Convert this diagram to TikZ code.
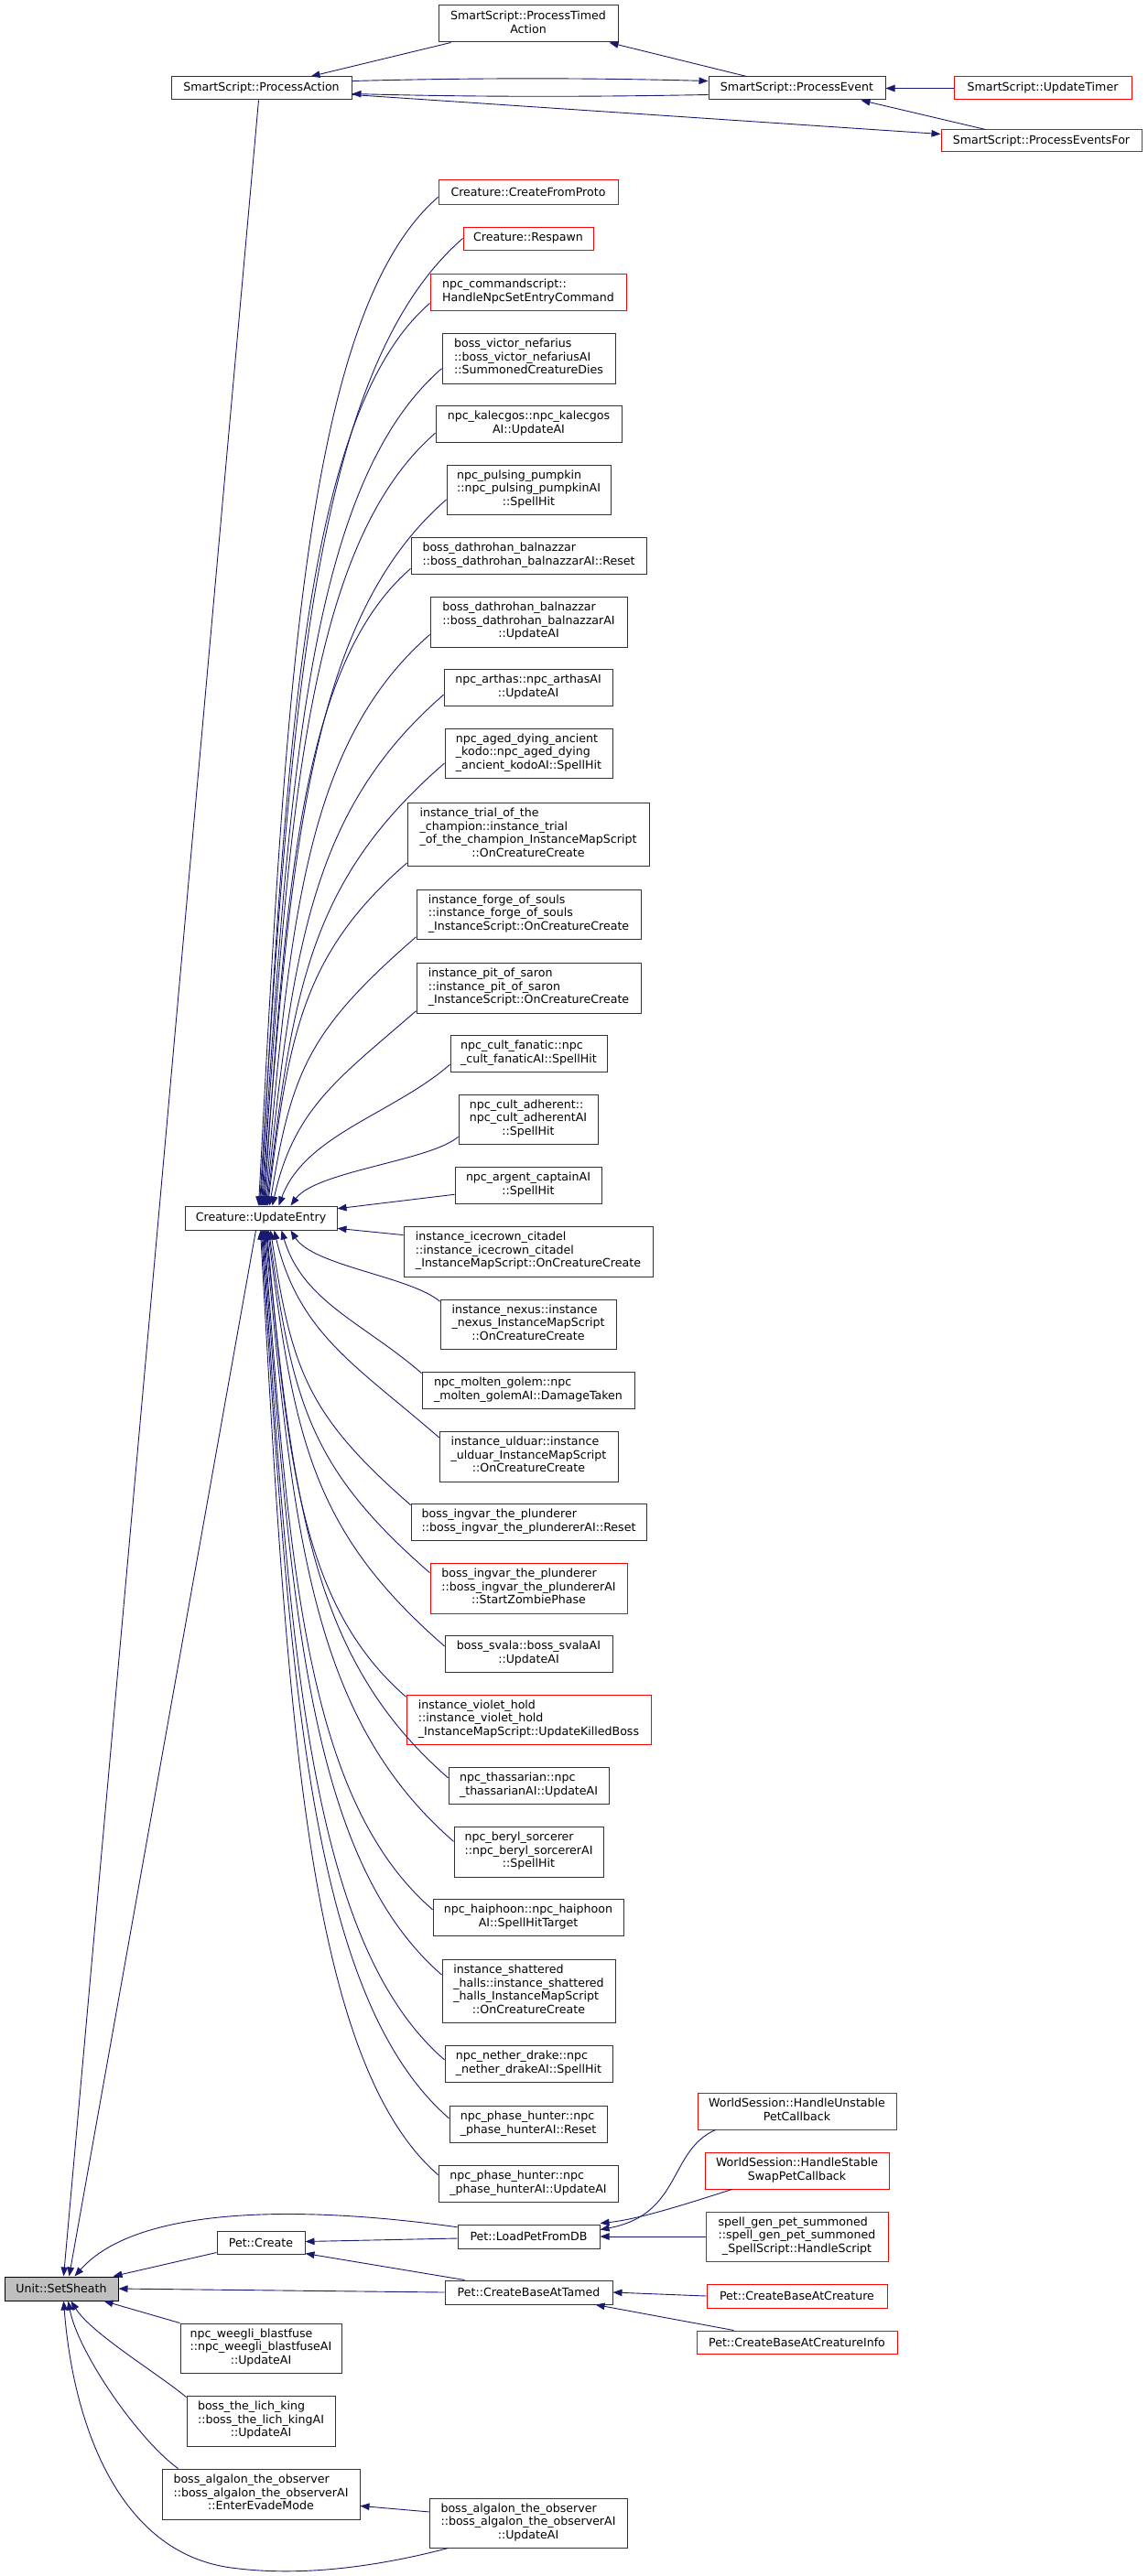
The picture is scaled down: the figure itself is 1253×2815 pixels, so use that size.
\documentclass[tikz,border=0pt]{standalone}
\usepackage{fontspec}
\setmainfont{DejaVu Sans}
\usetikzlibrary{arrows.meta,calc}
\definecolor{edgec}{HTML}{191970}
\definecolor{redc}{HTML}{FF0000}
\newcommand\tbl[1]{\begin{tabular}{@{}l@{}}#1\end{tabular}}
\newcommand\lastc[1]{\multicolumn{1}{@{}c@{}}{#1}}
\newcommand\bx[7][nbox]{\node[#1,minimum width={(#5-#3)*1pt},minimum height={(#6-#4)*1pt}] (#2) at ({(#3+#5)/2},{(#4+#6)/2}) {#7};}
\newcommand\ueup[3]{\draw[cedge] let \p1=($(#1.north west)!#2!(#1.south west)$), \p2=($(ue.north west)+({#3-202},0)$), \n1={min(0.75*((\x1)-(\x2)),0.4*((\y1)-(\y2)))} in (\p1) .. controls ({\x1-\n1*1pt},{\y1-0.87*\n1*1pt}) and ({\x2+0.15*((\x1)-(\x2))},{\y2+0.5*((\y1)-(\y2))}) .. (\p2);}
\newcommand\uedn[3]{\draw[cedge] let \p1=($(#1.north west)!#2!(#1.south west)$), \p2=($(ue.south west)+({#3-202},0)$), \n1={min(0.75*((\x1)-(\x2)),0.4*((\y2)-(\y1)))} in (\p1) .. controls ({\x1-\n1*1pt},{\y1+0.87*\n1*1pt}) and ({\x2+0.15*((\x1)-(\x2))},{\y2-0.5*((\y2)-(\y1))}) .. (\p2);}
\tikzset{
  nbox/.style={draw=black!80,line width=1pt,fill=white,inner sep=0pt,text=black,font=\fontsize{12.6}{14.5}\selectfont},
  rbox/.style={nbox,draw=redc},
  gbox/.style={nbox,draw=black,fill=black!25},
  cedge/.style={draw=edgec,line width=0.9pt,-{Triangle[length=10pt,width=7.5pt]}}
}
\begin{document}
\begin{tikzpicture}[x=1pt,y=-1pt]
\useasboundingbox[fill=white] (0,0) rectangle (1253,2815);
% top
\bx{pta}{479}{6}{675}{46}{\tbl{SmartScript::ProcessTimed\\\lastc{Action}}}
\bx{pa}{187}{84}{384}{109}{SmartScript::ProcessAction}
\bx{pe}{774}{84}{967}{109}{SmartScript::ProcessEvent}
\bx[rbox]{ut}{1042}{84}{1236}{109}{SmartScript::UpdateTimer}
\bx[rbox]{pef}{1028}{142}{1247}{166}{SmartScript::ProcessEventsFor}
% middle column
\bx[rbox]{cfp}{479}{197}{675}{223}{Creature::CreateFromProto}
\bx[rbox]{resp}{506}{248}{648}{273}{Creature::Respawn}
\bx[rbox]{ncs}{470}{299}{684}{339}{\tbl{npc\_commandscript::\\\lastc{HandleNpcSetEntryCommand}}}
\bx{bvn}{483}{364}{672}{419}{\tbl{boss\_victor\_nefarius\\::boss\_victor\_nefariusAI\\\lastc{::SummonedCreatureDies}}}
\bx{kal}{476}{443}{679}{483}{\tbl{npc\_kalecgos::npc\_kalecgos\\\lastc{AI::UpdateAI}}}
\bx{pump}{488}{508}{667}{562}{\tbl{npc\_pulsing\_pumpkin\\::npc\_pulsing\_pumpkinAI\\\lastc{::SpellHit}}}
\bx{dbr}{449}{587}{706}{627}{\tbl{boss\_dathrohan\_balnazzar\\\lastc{::boss\_dathrohan\_balnazzarAI::Reset}}}
\bx{dbu}{470}{652}{685}{707}{\tbl{boss\_dathrohan\_balnazzar\\::boss\_dathrohan\_balnazzarAI\\\lastc{::UpdateAI}}}
\bx{arth}{485}{731}{669}{771}{\tbl{npc\_arthas::npc\_arthasAI\\\lastc{::UpdateAI}}}
\bx{kodo}{486}{796}{669}{850}{\tbl{npc\_aged\_dying\_ancient\\\_kodo::npc\_aged\_dying\\\lastc{\_ancient\_kodoAI::SpellHit}}}
\bx{trial}{445}{877}{709}{946}{\tbl{instance\_trial\_of\_the\\\_champion::instance\_trial\\\_of\_the\_champion\_InstanceMapScript\\\lastc{::OnCreatureCreate}}}
\bx{forge}{455}{972}{700}{1026}{\tbl{instance\_forge\_of\_souls\\::instance\_forge\_of\_souls\\\lastc{\_InstanceScript::OnCreatureCreate}}}
\bx{pit}{455}{1052}{700}{1107}{\tbl{instance\_pit\_of\_saron\\::instance\_pit\_of\_saron\\\lastc{\_InstanceScript::OnCreatureCreate}}}
\bx{fan}{492}{1131}{663}{1171}{\tbl{npc\_cult\_fanatic::npc\\\lastc{\_cult\_fanaticAI::SpellHit}}}
\bx{adh}{501}{1196}{653}{1250}{\tbl{npc\_cult\_adherent::\\npc\_cult\_adherentAI\\\lastc{::SpellHit}}}
\bx{arg}{497}{1275}{657}{1315}{\tbl{npc\_argent\_captainAI\\\lastc{::SpellHit}}}
\bx{ue}{202}{1318}{368}{1344}{Creature::UpdateEntry}
\bx{ice}{441}{1340}{713}{1395}{\tbl{instance\_icecrown\_citadel\\::instance\_icecrown\_citadel\\\lastc{\_InstanceMapScript::OnCreatureCreate}}}
\bx{nex}{481}{1420}{673}{1474}{\tbl{instance\_nexus::instance\\\_nexus\_InstanceMapScript\\\lastc{::OnCreatureCreate}}}
\bx{mol}{461}{1499}{693}{1539}{\tbl{npc\_molten\_golem::npc\\\lastc{\_molten\_golemAI::DamageTaken}}}
\bx{uld}{480}{1564}{675}{1619}{\tbl{instance\_ulduar::instance\\\_ulduar\_InstanceMapScript\\\lastc{::OnCreatureCreate}}}
\bx{ivr}{449}{1643}{706}{1683}{\tbl{boss\_ingvar\_the\_plunderer\\\lastc{::boss\_ingvar\_the\_plundererAI::Reset}}}
\bx[rbox]{ivz}{470}{1708}{685}{1763}{\tbl{boss\_ingvar\_the\_plunderer\\::boss\_ingvar\_the\_plundererAI\\\lastc{::StartZombiePhase}}}
\bx{sva}{486}{1787}{669}{1827}{\tbl{boss\_svala::boss\_svalaAI\\\lastc{::UpdateAI}}}
\bx[rbox]{vio}{444}{1852}{711}{1906}{\tbl{instance\_violet\_hold\\::instance\_violet\_hold\\\lastc{\_InstanceMapScript::UpdateKilledBoss}}}
\bx{tha}{490}{1931}{665}{1971}{\tbl{npc\_thassarian::npc\\\lastc{\_thassarianAI::UpdateAI}}}
\bx{ber}{496}{1996}{659}{2051}{\tbl{npc\_beryl\_sorcerer\\::npc\_beryl\_sorcererAI\\\lastc{::SpellHit}}}
\bx{hai}{473}{2075}{681}{2115}{\tbl{npc\_haiphoon::npc\_haiphoon\\\lastc{AI::SpellHitTarget}}}
\bx{sha}{483}{2141}{672}{2210}{\tbl{instance\_shattered\\\_halls::instance\_shattered\\\_halls\_InstanceMapScript\\\lastc{::OnCreatureCreate}}}
\bx{neth}{486}{2235}{669}{2275}{\tbl{npc\_nether\_drake::npc\\\lastc{\_nether\_drakeAI::SpellHit}}}
\bx{phr}{491}{2301}{663}{2341}{\tbl{npc\_phase\_hunter::npc\\\lastc{\_phase\_hunterAI::Reset}}}
\bx{phu}{479}{2366}{675}{2406}{\tbl{npc\_phase\_hunter::npc\\\lastc{\_phase\_hunterAI::UpdateAI}}}
% bottom
\bx[gbox]{ss}{5}{2488}{129}{2514}{Unit::SetSheath}
\bx{pc}{237}{2438}{333}{2463}{Pet::Create}
\bx{lp}{500}{2431}{655}{2457}{Pet::LoadPetFromDB}
\bx{cbt}{486}{2492}{669}{2518}{Pet::CreateBaseAtTamed}
\bx[rbox]{hu}{762}{2287}{979}{2327}{\tbl{WorldSession::HandleUnstable\\\lastc{PetCallback}}}
\bx[rbox]{hs}{770}{2352}{971}{2392}{\tbl{WorldSession::HandleStable\\\lastc{SwapPetCallback}}}
\bx[rbox]{sg}{771}{2417}{970}{2471}{\tbl{spell\_gen\_pet\_summoned\\::spell\_gen\_pet\_summoned\\\lastc{\_SpellScript::HandleScript}}}
\bx[rbox]{cbc}{772}{2496}{969}{2522}{Pet::CreateBaseAtCreature}
\bx[rbox]{cbi}{761}{2547}{980}{2572}{Pet::CreateBaseAtCreatureInfo}
\bx{weg}{197}{2539}{373}{2593}{\tbl{npc\_weegli\_blastfuse\\::npc\_weegli\_blastfuseAI\\\lastc{::UpdateAI}}}
\bx{lk}{204}{2618}{366}{2673}{\tbl{boss\_the\_lich\_king\\::boss\_the\_lich\_kingAI\\\lastc{::UpdateAI}}}
\bx{aev}{177}{2698}{393}{2753}{\tbl{boss\_algalon\_the\_observer\\::boss\_algalon\_the\_observerAI\\\lastc{::EnterEvadeMode}}}
\bx{aup}{469}{2730}{685}{2784}{\tbl{boss\_algalon\_the\_observer\\::boss\_algalon\_the\_observerAI\\\lastc{::UpdateAI}}}
% top edges
\draw[cedge] ($(pta.south west)+(14,0)$) -- ($(pa.north west)+(153,0)$);
\draw[cedge] ($(pe.north west)+(42,0)$) -- ($(pta.south west)+(187,0)$);
\draw[cedge] ($(pa.north east)+(0,5)$) .. controls (520,85) and (640,85) .. ($(pe.north west)+(0,5)$);
\draw[cedge] ($(pe.north west)+(0,20)$) .. controls (640,106) and (520,106) .. ($(pa.north east)+(0,19)$);
\draw[cedge] ($(pa.north east)+(0,20)$) -- ($(pef.north west)+(0,5)$);
\draw[cedge] (ut.west) -- (pe.east);
\draw[cedge] ($(pef.north west)+(49,0)$) -- ($(pe.south east)+(-27,0)$);
\draw[cedge] ($(pa.south west)+(96,0)$) -- ($(ss.north west)+(65,0)$);
\draw[cedge] ($(ue.south west)+(78,0)$) -- ($(ss.north west)+(71,0)$);
% edges into Creature::UpdateEntry
\ueup{cfp}{0.7}{283}
\ueup{resp}{0.5}{284}
\ueup{ncs}{0.8}{285}
\ueup{bvn}{0.7}{286}
\ueup{kal}{0.75}{287}
\ueup{pump}{0.7}{288}
\ueup{dbr}{0.85}{289}
\ueup{dbu}{0.75}{290}
\ueup{arth}{0.7}{291}
\ueup{kodo}{0.7}{292}
\ueup{trial}{0.95}{293}
\ueup{forge}{0.95}{295}
\ueup{pit}{0.95}{298}
\ueup{fan}{0.8}{305}
\ueup{adh}{0.85}{318}
\draw[cedge] ($(arg.north west)!0.75!(arg.south west)$) -- ($(ue.north east)!0.12!(ue.south east)$);
\draw[cedge] ($(ice.north west)!0.18!(ice.south west)$) -- ($(ue.north east)!0.92!(ue.south east)$);
\uedn{nex}{0.05}{318}
\uedn{mol}{0.05}{308}
\uedn{uld}{0.13}{300}
\uedn{ivr}{0.05}{296}
\uedn{ivz}{0.2}{294}
\uedn{sva}{0.3}{293}
\uedn{vio}{0.05}{292}
\uedn{tha}{0.3}{291}
\uedn{ber}{0.3}{290}
\uedn{hai}{0.3}{289}
\uedn{sha}{0.25}{288}
\uedn{neth}{0.4}{287}
\uedn{phr}{0.35}{286}
\uedn{phu}{0.27}{285}
% bottom edges
\draw[cedge] ($(pc.south west)+(0,-2)$) -- ($(ss.north east)+(-6,0)$);
\draw[cedge] ($(lp.north west)!0.12!(lp.south west)$) .. controls (330,2410) and (150,2410) .. ($(ss.north west)+(77,0)$);
\draw[cedge] ($(lp.west)+(0,2)$) -- ($(pc.east)+(0,-1)$);
\draw[cedge] ($(cbt.north west)+(22,0)$) -- ($(pc.south east)+(0,-1)$);
\draw[cedge] (cbt.west) -- ($(ss.east)+(0,0)$);
\draw[cedge] (weg.north west) -- ($(ss.south east)+(-16,0)$);
\draw[cedge] ($(lk.north west)+(0,2)$) .. controls (170,2592) and (100,2550) .. ($(ss.south west)+(73,0)$);
\draw[cedge] ($(aev.north west)+(18,0)$) .. controls (150,2665) and (85,2570) .. ($(ss.south west)+(70,0)$);
\draw[cedge] ($(aup.south west)+(21,0)$) .. controls (400,2808) and (320,2815) .. (253,2806) .. controls (130,2790) and (80,2650) .. ($(ss.south west)+(65,0)$);
\draw[cedge] ($(aup.north west)!0.28!(aup.south west)$) -- ($(aev.north east)!0.73!(aev.south east)$);
\draw[cedge] ($(hu.south west)+(20,0)$) .. controls (730,2350) and (745,2420) .. ($(lp.north east)+(0,6)$);
\draw[cedge] ($(hs.south west)+(30,0)$) .. controls (760,2405) and (700,2425) .. ($(lp.north east)+(0,-1)$);
\draw[cedge] (sg.west) -- (lp.east);
\draw[cedge] (cbc.west) -- (cbt.east);
\draw[cedge] ($(cbi.north west)+(41,0)$) -- ($(cbt.south east)+(-19,0)$);
\end{tikzpicture}
\end{document}
